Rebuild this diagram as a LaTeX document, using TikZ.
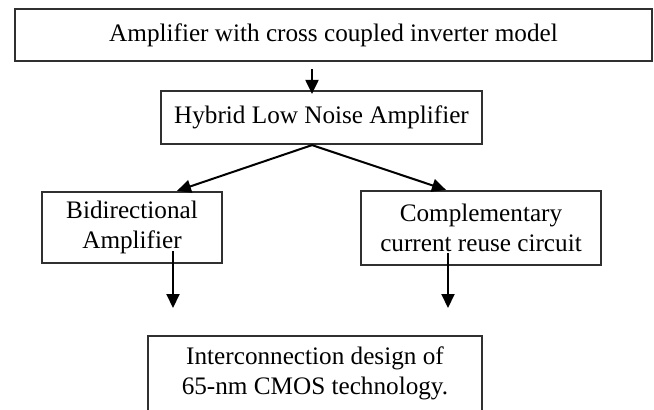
\documentclass[tikz,border=0pt]{standalone}
\usepackage{fontspec}
\setmainfont{Liberation Serif}
\definecolor{BoxLine}{HTML}{303030}
\definecolor{ArrowBlack}{HTML}{000000}
\definecolor{PageWhite}{HTML}{ffffff}
\usetikzlibrary{arrows.meta,positioning}
\tikzset{
    % plain rectangular boxes
    block/.style={
        rectangle,
        draw=BoxLine,
        line width=1.1pt,
        fill=PageWhite,
        text=black,
        inner sep=0pt,
        align=center,
        font=\fontsize{12.6}{15}\selectfont
    },
    arrow/.style={
        -{Triangle[length=7pt,width=6.5pt]},
        line width=1pt,
        color=ArrowBlack
    }
}
\begin{document}
\begin{tikzpicture}[x=0.5pt, y=-0.5pt]
    \useasboundingbox (0,0) rectangle (654,409);
    \node[block, minimum width=318.5pt, minimum height=26pt] (model) at (333.5,35) {Amplifier with cross coupled inverter model};
    \node[block, minimum width=160.5pt, minimum height=26.5pt] (hybrid) at (321.5,117.5) {Hybrid Low Noise Amplifier};
    \node[block, minimum width=90pt, minimum height=35.5pt] (bidir) at (132,227.5) {Bidirectional\\Amplifier};
    \node[block, minimum width=120pt, minimum height=37pt] (reuse) at (481,228) {Complementary\\current reuse circuit};
    \node[block, minimum width=167pt, minimum height=37.5pt] (cmos) at (315,373.5) {Interconnection design of\\65-nm CMOS technology.};

    \coordinate (leftend) at (173,308);
    \coordinate (rightend) at (448,308);

    \draw[arrow] ([xshift=-10.75pt,yshift=-3.5pt]model.south) -- ([xshift=-4.75pt,yshift=-2pt]hybrid.north);
    \draw[arrow] ([xshift=-4.75pt]hybrid.south) -- ([xshift=22.5pt]bidir.north);
    \draw[arrow] ([xshift=-4.75pt]hybrid.south) -- ([xshift=-17.5pt]reuse.north);
    \draw[arrow] ([xshift=20.5pt,yshift=6.5pt]bidir.south) -- (leftend);
    \draw[arrow] ([xshift=-16.5pt,yshift=6.5pt]reuse.south) -- (rightend);
\end{tikzpicture}
\end{document}
